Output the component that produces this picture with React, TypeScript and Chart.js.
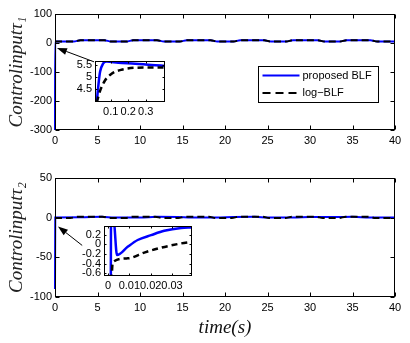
import { useEffect, useRef } from "react";
import { Chart, registerables } from "chart.js";

Chart.register(...registerables);

type P = [number, number];

// ---------- data ----------
const seriesLabels = ["proposed BLF", "log\u2212BLF"];

const timeTicks = [0, 5, 10, 15, 20, 25, 30, 35, 40];
const tau1Ticks = [-300, -200, -100, 0, 100];
const tau2Ticks = [-100, -50, 0, 50];

const tau1Blue: P[] = [
  [0, -300], [0.02, 5], [2.2, 5], [3.0, 9.5], [5.8, 9.5], [6.6, 5], [8.4, 5], [9.2, 9.5],
  [12.0, 9.5], [12.8, 5], [14.7, 5], [15.5, 9.5], [18.3, 9.5], [19.1, 5], [21.0, 5],
  [21.8, 9.5], [24.6, 9.5], [25.4, 5], [27.2, 5], [28.0, 9.5], [30.9, 9.5], [31.7, 5],
  [33.5, 5], [34.3, 9.5], [37.1, 9.5], [37.9, 5], [40, 5],
];
const tau1Black: P[] = [
  [0, 5], [2.2, 5], [3.0, 9.5], [5.8, 9.5], [6.6, 5], [8.4, 5], [9.2, 9.5],
  [12.0, 9.5], [12.8, 5], [14.7, 5], [15.5, 9.5], [18.3, 9.5], [19.1, 5], [21.0, 5],
  [21.8, 9.5], [24.6, 9.5], [25.4, 5], [27.2, 5], [28.0, 9.5], [30.9, 9.5], [31.7, 5],
  [33.5, 5], [34.3, 9.5], [37.1, 9.5], [37.9, 5], [40, 5],
];

const tau2Blue: P[] = [
  [0, -90], [0.03, 0.2], [3, 0.4], [5.5, 1.0], [7, 0.2], [10, 0.2], [12, 1.0], [14.5, 0.8],
  [16, 0.1], [19, 0.1], [21, 0.9], [23.5, 1.1], [25, 0.2], [28, 0.1], [30, 0.8], [33, 0.9],
  [35, 1.0], [37, 0.2], [40, 0.1],
];
const tau2Black: P[] = [
  [0, -0.5], [1.8, -0.5], [2.6, 1.2], [5.6, 1.2], [6.4, -0.5], [8.3, -0.5], [9.1, 1.2],
  [11.8, 1.2], [12.6, -0.5], [14.5, -0.5], [15.3, 1.2], [18.1, 1.2], [18.9, -0.5],
  [20.8, -0.5], [21.6, 1.2], [24.4, 1.2], [25.2, -0.5], [27.1, -0.5], [27.9, 1.2],
  [30.7, 1.2], [31.5, -0.5], [33.4, -0.5], [34.2, 1.2], [36.9, 1.2], [37.7, -0.5], [40, -0.5],
];

const zoom1XTicks = [0.1, 0.2, 0.3];
const zoom1YTicks = [4.5, 5, 5.5];
const zoom1Blue: P[] = [
  [0.02, 3.95], [0.029, 4.64], [0.039, 5.22], [0.057, 5.57], [0.077, 5.65],
  [0.143, 5.6], [0.24, 5.56], [0.334, 5.5], [0.41, 5.47],
];
const zoom1Black: P[] = [
  [0.02, 3.95], [0.039, 4.43], [0.067, 4.86], [0.105, 5.14], [0.162, 5.31],
  [0.24, 5.39], [0.334, 5.4], [0.41, 5.4],
];

const zoom2XTicks = [0, 0.01, 0.02, 0.03];
const zoom2YTicks = [-0.6, -0.4, -0.2, 0, 0.2];
const zoom2Blue: P[] = [
  [0.0013, -0.75], [0.0014, 0.5], [0.0026, 0.5], [0.0042, -0.22], [0.0092, -0.05],
  [0.0139, 0.09], [0.0202, 0.19], [0.0264, 0.28], [0.0343, 0.34], [0.0394, 0.35],
];
const zoom2Black: P[] = [
  [0.0016, -0.75], [0.0022, -0.37], [0.0092, -0.29], [0.017, -0.17], [0.0249, -0.07],
  [0.0343, 0.02], [0.0394, 0.055],
];

// arrows (data units): [tail, head]
const arrow1: [P, P] = [[4.6, -65], [0.23, -17]];
const arrow2: [P, P] = [[3.2, -35], [0.35, -11]];

// ---------- plugins ----------
const framePlugin = {
  id: "frame",
  beforeDraw(chart: any, _a: any, o: any) {
    if (!o || !o.fill) return;
    const { ctx, chartArea: a } = chart;
    ctx.save();
    ctx.fillStyle = "#fff";
    ctx.fillRect(a.left, a.top, a.right - a.left, a.bottom - a.top);
    ctx.restore();
  },
  afterDraw(chart: any, _a: any, o: any) {
    const { ctx, chartArea: a, scales } = chart;
    const L = Math.round(a.left) + 0.5;
    const R = Math.round(a.right) - 0.5;
    const T = Math.round(a.top) + 0.5;
    const B = Math.round(a.bottom) - 0.5;
    const len = (o && o.tickLen) || 0;
    ctx.save();
    ctx.strokeStyle = "#000";
    ctx.lineWidth = 1;
    ctx.strokeRect(L, T, R - L, B - T);
    if (len > 0) {
      ctx.beginPath();
      scales.x.ticks.forEach((t: any) => {
        const px = Math.round(scales.x.getPixelForValue(t.value)) + 0.5;
        ctx.moveTo(px, B); ctx.lineTo(px, B - len);
        ctx.moveTo(px, T); ctx.lineTo(px, T + len);
      });
      scales.y.ticks.forEach((t: any) => {
        const py = Math.round(scales.y.getPixelForValue(t.value)) + 0.5;
        ctx.moveTo(L, py); ctx.lineTo(L + len, py);
        ctx.moveTo(R, py); ctx.lineTo(R - len, py);
      });
      ctx.stroke();
    }
    ctx.restore();
  },
};

const boxLegendPlugin = {
  id: "boxLegend",
  afterDraw(chart: any, _a: any, o: any) {
    if (!o || !o.show) return;
    const { ctx, chartArea: a } = chart;
    const left = Math.round(a.right - 137) + 0.5;
    const top = Math.round(a.top + 52) + 0.5;
    const w = 120, h = 36;
    ctx.save();
    ctx.fillStyle = "#fff";
    ctx.fillRect(left, top, w, h);
    ctx.strokeStyle = "#000";
    ctx.lineWidth = 1;
    ctx.strokeRect(left, top, w, h);
    ctx.font = "11px 'Liberation Sans', Arial, sans-serif";
    ctx.textBaseline = "middle";
    chart.data.datasets.forEach((ds: any, i: number) => {
      const y = top + 9 + i * 17.5;
      ctx.beginPath();
      ctx.strokeStyle = ds.borderColor;
      ctx.lineWidth = 2;
      ctx.setLineDash(ds.borderDash ? [8, 5] : []);
      ctx.moveTo(left + 4, y);
      ctx.lineTo(left + 41, y);
      ctx.stroke();
      ctx.setLineDash([]);
      ctx.fillStyle = "#000";
      ctx.fillText(ds.label, left + 44, y);
    });
    ctx.restore();
  },
};

const arrowPlugin = {
  id: "arrow",
  afterDraw(chart: any, _a: any, o: any) {
    if (!o || !o.arrow) return;
    const { ctx, scales } = chart;
    const [tail, head] = o.arrow as [P, P];
    const x0 = scales.x.getPixelForValue(tail[0]);
    const y0 = scales.y.getPixelForValue(tail[1]);
    const x1 = scales.x.getPixelForValue(head[0]);
    const y1 = scales.y.getPixelForValue(head[1]);
    const ang = Math.atan2(y1 - y0, x1 - x0);
    const hl = 10, hw = 3.5;
    const bx = x1 - hl * Math.cos(ang);
    const by = y1 - hl * Math.sin(ang);
    ctx.save();
    ctx.strokeStyle = "#000";
    ctx.fillStyle = "#000";
    ctx.lineWidth = 1;
    ctx.beginPath();
    ctx.moveTo(x0, y0);
    ctx.lineTo(bx, by);
    ctx.stroke();
    ctx.beginPath();
    ctx.moveTo(x1, y1);
    ctx.lineTo(bx + hw * Math.sin(ang), by - hw * Math.cos(ang));
    ctx.lineTo(bx - hw * Math.sin(ang), by + hw * Math.cos(ang));
    ctx.closePath();
    ctx.fill();
    ctx.restore();
  },
};

// ---------- config ----------
const fmt = (v: any) => parseFloat(Number(v).toFixed(4)).toString();
const tickFont = { family: "'Liberation Sans', Arial, sans-serif", size: 11 };
const titleFont = { family: "'Liberation Serif', 'DejaVu Serif', serif", size: 19, style: "italic" as const };

interface Spec {
  blue: P[]; black: P[];
  xMin: number; xMax: number; xTicks: number[];
  yMin: number; yMax: number; yTicks: number[];
  yWidth: number; xHeight: number;
  padTop: number; padRight: number;
  yTitle?: string; xTitle?: string;
  lw: number; dash: number[];
  tickLen: number; fill: boolean; legend?: boolean; arrow?: [P, P];
  xPad: number; yPad: number; clip: number;
}

function makeConfig(s: Spec): any {
  const noPad = (sc: any) => {
    sc.paddingLeft = 0; sc.paddingRight = 0; sc.paddingTop = 0; sc.paddingBottom = 0;
  };
  return {
    type: "line",
    data: {
      datasets: [
        {
          label: seriesLabels[0],
          data: s.blue.map(([x, y]) => ({ x, y })),
          borderColor: "#0000ff",
          borderWidth: s.lw,
          pointRadius: 0,
          cubicInterpolationMode: "monotone",
          order: 2,
          clip: s.clip,
        },
        {
          label: seriesLabels[1],
          data: s.black.map(([x, y]) => ({ x, y })),
          borderColor: "#000000",
          borderWidth: s.lw,
          borderDash: s.dash,
          pointRadius: 0,
          cubicInterpolationMode: "monotone",
          order: 1,
          clip: s.clip,
        },
      ],
    },
    options: {
      responsive: false,
      animation: false,
      devicePixelRatio: 1,
      layout: { padding: { top: s.padTop, right: s.padRight, left: 0, bottom: 0 } },
      plugins: {
        legend: { display: false },
        tooltip: { enabled: false },
        frame: { fill: s.fill, tickLen: s.tickLen },
        boxLegend: { show: !!s.legend },
        arrow: { arrow: s.arrow },
      },
      scales: {
        x: {
          type: "linear",
          min: s.xMin,
          max: s.xMax,
          afterBuildTicks: (sc: any) => { sc.ticks = s.xTicks.map((v) => ({ value: v })); },
          afterFit: (sc: any) => { sc.height = s.xHeight; noPad(sc); },
          grid: { display: false, drawTicks: false },
          border: { display: false },
          ticks: { font: tickFont, color: "#000", padding: s.xPad, maxRotation: 0, autoSkip: false, callback: fmt },
          title: s.xTitle
            ? { display: true, text: s.xTitle, font: titleFont, color: "#111", padding: { top: 0, bottom: 4 } }
            : { display: false },
        },
        y: {
          type: "linear",
          min: s.yMin,
          max: s.yMax,
          afterBuildTicks: (sc: any) => { sc.ticks = s.yTicks.map((v) => ({ value: v })); },
          afterFit: (sc: any) => { sc.width = s.yWidth; noPad(sc); },
          grid: { display: false, drawTicks: false },
          border: { display: false },
          ticks: { font: tickFont, color: "#000", padding: s.yPad, autoSkip: false, callback: fmt },
          title: s.yTitle
            ? { display: true, text: s.yTitle, font: titleFont, color: "#222", padding: { top: 6, bottom: 0 } }
            : { display: false },
        },
      },
    },
    plugins: [framePlugin, boxLegendPlugin, arrowPlugin],
  };
}

function Panel(props: { left: number; top: number; width: number; height: number; spec: Spec }) {
  const ref = useRef<HTMLCanvasElement | null>(null);
  useEffect(() => {
    if (!ref.current) return;
    const chart = new Chart(ref.current, makeConfig(props.spec));
    return () => chart.destroy();
  }, []);
  return (
    <canvas
      ref={ref}
      width={props.width}
      height={props.height}
      style={{ position: "absolute", left: props.left, top: props.top, width: props.width, height: props.height }}
    />
  );
}

const main1: Spec = {
  blue: tau1Blue, black: tau1Black,
  xMin: 0, xMax: 40, xTicks: timeTicks,
  yMin: -300, yMax: 100, yTicks: tau1Ticks,
  yWidth: 55, xHeight: 30, padTop: 14, padRight: 15,
  yTitle: "Controlinput\u03c4\u2081",
  lw: 2, dash: [7, 4], tickLen: 4, fill: false, legend: true, arrow: arrow1,
  xPad: 4, yPad: 3, clip: 2,
};
const main2: Spec = {
  blue: tau2Blue, black: tau2Black,
  xMin: 0, xMax: 40, xTicks: timeTicks,
  yMin: -100, yMax: 50, yTicks: tau2Ticks,
  yWidth: 55, xHeight: 46, padTop: 18, padRight: 15,
  yTitle: "Controlinput\u03c4\u2082", xTitle: "time(s)",
  lw: 2, dash: [7, 4], tickLen: 4, fill: false, arrow: arrow2,
  xPad: 4, yPad: 3, clip: 2,
};
const inset1: Spec = {
  blue: zoom1Blue, black: zoom1Black,
  xMin: 0.01, xMax: 0.41, xTicks: zoom1XTicks,
  yMin: 3.97, yMax: 5.67, yTicks: zoom1YTicks,
  yWidth: 45, xHeight: 23, padTop: 11, padRight: 5,
  lw: 2.5, dash: [6, 4], tickLen: 2, fill: true,
  xPad: 3, yPad: 3, clip: 0,
};
const inset2: Spec = {
  blue: zoom2Blue, black: zoom2Black,
  xMin: -0.0019, xMax: 0.0394, xTicks: zoom2XTicks,
  yMin: -0.655, yMax: 0.38, yTicks: zoom2YTicks,
  yWidth: 44, xHeight: 20, padTop: 12, padRight: 8,
  lw: 2.5, dash: [6, 4], tickLen: 2, fill: true,
  xPad: 3, yPad: 3, clip: 0,
};

export default function App() {
  return (
    <div style={{ position: "absolute", left: 0, top: 0, width: 410, height: 343, background: "#fff", overflow: "hidden" }}>
      <Panel left={0} top={0} width={410} height={160} spec={main1} />
      <Panel left={0} top={160} width={410} height={183} spec={main2} />
      <Panel left={50} top={50} width={120} height={75} spec={inset1} />
      <Panel left={60} top={214} width={140} height={82} spec={inset2} />
    </div>
  );
}
